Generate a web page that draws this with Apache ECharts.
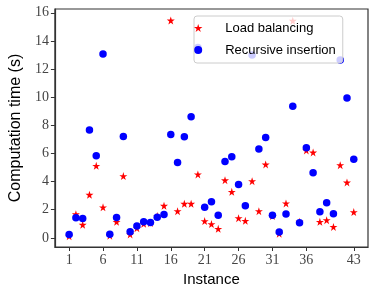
<!DOCTYPE html>
<html><head><meta charset="utf-8">
<script src="https://cdn.jsdelivr.net/npm/echarts@6/dist/echarts.min.js"></script>
<style>html,body{margin:0;padding:0;background:#fff}#c{width:374px;height:293px}</style>
</head><body><div id="c"></div>
<script>
const instances = [1,2,3,4,5,6,7,8,9,10,11,12,13,14,15,16,17,18,19,20,21,22,23,24,25,26,27,28,29,30,31,32,33,34,35,36,37,38,39,40,41,42,43];
const loadBalancing = [0.12,1.68,0.93,3.06,5.12,2.17,0.15,1.14,4.39,0.24,0.69,1.0,1.05,1.56,2.28,15.45,1.9,2.42,2.42,4.51,1.19,0.98,0.64,4.1,3.27,1.4,1.21,4.03,1.9,5.22,1.55,0.3,2.45,15.43,1.15,6.21,6.07,1.14,1.26,0.78,5.17,3.94,1.83];
const recursiveInsertion = [0.24,1.43,1.37,7.66,5.83,13.07,0.25,1.45,7.21,0.43,0.84,1.15,1.09,1.47,1.66,7.35,5.36,7.19,8.61,13.54,2.18,2.56,1.61,5.43,5.76,3.8,2.28,13.0,6.31,7.14,1.61,0.41,1.69,9.36,1.07,6.4,4.62,1.85,2.49,1.71,12.64,9.94,5.58];
const xTicks = [1,6,11,16,21,26,31,36,43];
const yTicks = [0,2,4,6,8,10,12,14,16];
const seriesNames = ['Load balancing','Recursive insertion'];

// star symbol shape
let sp = '';
for (let k = 0; k < 10; k++) {
  const r = k % 2 === 0 ? 1 : 0.382;
  const a = -Math.PI/2 + k * Math.PI/5;
  sp += (k === 0 ? 'M' : 'L') + (r*Math.cos(a)).toFixed(4) + ' ' + (r*Math.sin(a)).toFixed(4) + ' ';
}
const star = 'path://' + sp + 'Z';

const chart = echarts.init(document.getElementById('c'), null, {renderer:'canvas'});
const axisCol = '#333';
chart.setOption({
  animation:false,
  grid:{left:48,right:6,top:9,bottom:46,show:true,borderColor:axisCol,borderWidth:1.2,backgroundColor:'transparent'},
  xAxis:{type:'value',min:-1.1,max:45.1,
    name:'Instance',nameLocation:'middle',nameGap:23,
    nameTextStyle:{fontFamily:'Liberation Sans',fontSize:15,color:'#000'},
    axisLine:{show:true,onZero:false,lineStyle:{color:axisCol,width:1.2}},
    axisTick:{show:true,length:4,lineStyle:{color:axisCol},customValues:xTicks},
    axisLabel:{margin:6,fontFamily:'Liberation Serif',fontSize:14,color:'#444',customValues:xTicks},
    splitLine:{show:false}},
  yAxis:{type:'value',min:-0.65,max:16.27,
    name:'Computation time (s)',nameLocation:'middle',nameGap:24,
    nameTextStyle:{fontFamily:'Liberation Sans',fontSize:16,color:'#000'},
    axisLine:{show:true,onZero:false,lineStyle:{color:axisCol,width:1.2}},
    axisTick:{show:true,length:4,lineStyle:{color:axisCol},customValues:yTicks},
    axisLabel:{margin:6,fontFamily:'Liberation Serif',fontSize:14,color:'#444',customValues:yTicks},
    splitLine:{show:false}},
  legend:{left:194,top:16,orient:'vertical',
    data:[{name:seriesNames[0],icon:star},{name:seriesNames[1],icon:'circle'}],
    itemWidth:44,itemHeight:8,itemGap:8,
    padding:[5,7,6,0],
    backgroundColor:'rgba(255,255,255,0.8)',borderColor:'#ccc',borderWidth:1,borderRadius:3,
    textStyle:{fontFamily:'Liberation Sans',fontSize:13,color:'#000',lineHeight:14}},
  series:[
    {name:seriesNames[0],type:'scatter',symbol:star,symbolSize:8,
     itemStyle:{color:'#ff0000',opacity:1},
     data:instances.map((x,i)=>[x,loadBalancing[i]])},
    {name:seriesNames[1],type:'scatter',symbol:'circle',symbolSize:7.5,
     itemStyle:{color:'#0000ff',opacity:1},
     data:instances.map((x,i)=>[x,recursiveInsertion[i]])}
  ]
});
</script></body></html>
